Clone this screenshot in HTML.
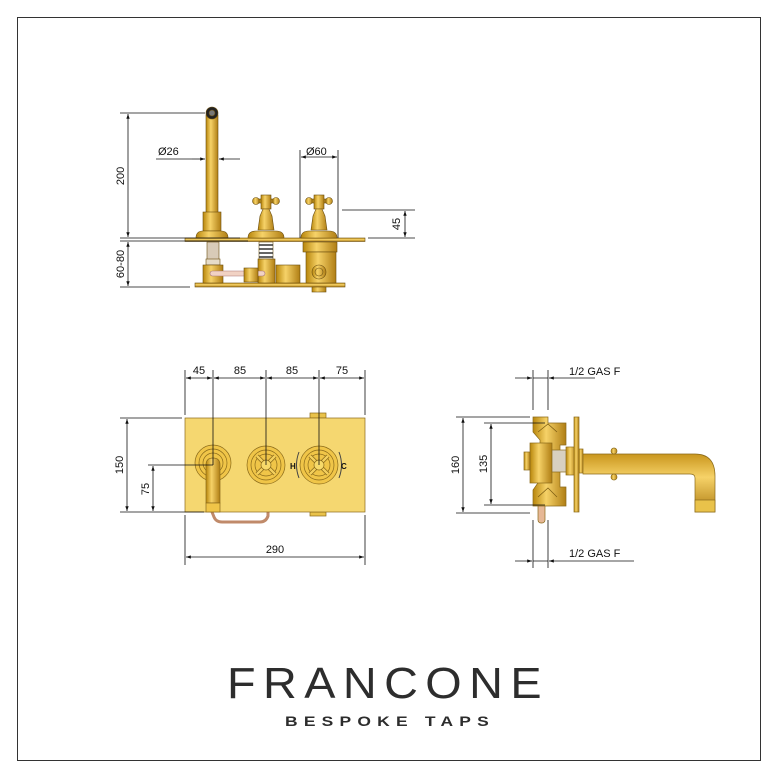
<!DOCTYPE html>
<html><head><meta charset="utf-8"><style>
html,body{margin:0;padding:0;background:#fff}
svg{display:block}
text{font-family:"Liberation Sans",sans-serif;fill:#111}
</style></head><body>
<svg width="778" height="778" viewBox="0 0 778 778" xmlns="http://www.w3.org/2000/svg">
<defs>
<linearGradient id="gv" x1="0" x2="1" y1="0" y2="0"><stop offset="0" stop-color="#b8860b"/><stop offset=".4" stop-color="#f6d268"/><stop offset="1" stop-color="#b07e14"/></linearGradient>
<linearGradient id="gh" x1="0" x2="0" y1="0" y2="1"><stop offset="0" stop-color="#c9961d"/><stop offset=".4" stop-color="#f6d268"/><stop offset="1" stop-color="#b07e14"/></linearGradient>
<marker id="a" viewBox="0 0 10 10" refX="10" refY="5" markerWidth="8" markerHeight="6" orient="auto-start-reverse"><path d="M0,1.5L10,5L0,8.5z" fill="#111"/></marker>
</defs>
<rect x="17.5" y="17.5" width="743" height="743" fill="#fff" stroke="#333" stroke-width="1"/>

<!-- ===== TOP ELEVATION ===== -->
<g stroke="#6b4e10" stroke-width=".6">
<!-- plates -->
<rect x="185" y="238" width="180" height="3.5" fill="url(#gh)"/>
<rect x="195" y="283" width="150" height="4" fill="url(#gh)"/>
<!-- spout -->
<rect x="206" y="115" width="12" height="98" fill="url(#gv)"/>
<rect x="203" y="212" width="18" height="19" fill="url(#gv)"/>
<path d="M196,238 Q196,231 203,231 L221,231 Q228,231 228,238Z" fill="url(#gv)"/>
<circle cx="212" cy="113" r="6" fill="#222"/>
<circle cx="212" cy="113" r="3" fill="#777"/>
<!-- handles -->
<g id="h1">
<circle cx="256" cy="201" r="3.5" fill="url(#gv)"/><circle cx="276" cy="201" r="3.5" fill="url(#gv)"/>
<rect x="259" y="199" width="14" height="4" fill="url(#gv)"/>
<rect x="261" y="195" width="10" height="14" fill="url(#gv)"/>
<path d="M263,209 L269,209 L272,216 L274,230 L258,230 L260,216Z" fill="url(#gv)"/>
<path d="M248,238 Q248,231 256,231 L276,231 Q284,231 284,238Z" fill="url(#gv)"/>
</g>
<use href="#h1" x="53"/>
<!-- below plate -->
<rect x="207" y="242" width="12" height="18" fill="#d8cbb8"/>
<rect x="206" y="259" width="14" height="6" fill="#e6dcc8"/>
<rect x="203" y="265" width="20" height="18" fill="url(#gv)"/>
<rect x="259" y="242" width="14" height="17" fill="#fff"/>
<path d="M259,245h14M259,249h14M259,253h14M259,257h14" stroke="#333" stroke-width="1.6"/>
<rect x="258" y="259" width="17" height="24" fill="url(#gv)"/>
<rect x="210" y="271" width="55" height="5" rx="2.5" fill="#f1d2c4" stroke="#a77"/>
<rect x="244" y="268" width="14" height="14" fill="url(#gv)"/>
<rect x="276" y="265" width="24" height="18" fill="url(#gv)"/>
<rect x="303" y="242" width="34" height="10" fill="url(#gv)"/>
<rect x="306" y="252" width="30" height="31" fill="url(#gv)"/>
<circle cx="319" cy="272" r="7" fill="url(#gv)"/>
<circle cx="319" cy="272" r="4" fill="none"/>
<rect x="312" y="287" width="14" height="5" fill="url(#gv)"/>
</g>
<g stroke="#111" stroke-width=".8" fill="none">
<path d="M120,113H205M120,238H240M120,241H248M120,287H190"/>
<line x1="128" y1="114" x2="128" y2="237" marker-start="url(#a)" marker-end="url(#a)"/>
<line x1="128" y1="242" x2="128" y2="286" marker-start="url(#a)" marker-end="url(#a)"/>
<path d="M156,159H192" /><line x1="192" y1="159" x2="205" y2="159" marker-end="url(#a)"/><line x1="240" y1="159" x2="219" y2="159" marker-end="url(#a)"/>
<path d="M300,150V238M338,150V238"/>
<line x1="301" y1="157" x2="337" y2="157" marker-start="url(#a)" marker-end="url(#a)"/>
<path d="M342,210H415M368,238H415"/>
<line x1="405" y1="211" x2="405" y2="237" marker-start="url(#a)" marker-end="url(#a)"/>
</g>
<text x="158" y="155" font-size="11">Ø26</text>
<text x="306" y="155" font-size="11">Ø60</text>
<text transform="translate(124,176) rotate(-90)" text-anchor="middle" font-size="11">200</text>
<text transform="translate(124,264) rotate(-90)" text-anchor="middle" font-size="11">60-80</text>
<text transform="translate(400,224) rotate(-90)" text-anchor="middle" font-size="11">45</text>

<!-- ===== FRONT VIEW ===== -->
<g stroke="#8a6a1a" stroke-width=".7">
<rect x="310" y="413" width="16" height="5" fill="#e9c24a"/>
<rect x="310" y="512" width="16" height="4" fill="#e9c24a"/>
<path d="M212,512 L214,517 Q216,522 222,522 L260,522 Q266,522 268,516 L268,512" fill="none" stroke="#c08a6a" stroke-width="3"/>
<rect x="185" y="418" width="180" height="94" fill="#f5d770"/>
<circle cx="213" cy="463" r="18" fill="#f0c548"/><circle cx="213" cy="463" r="14" fill="none"/><circle cx="213" cy="463" r="10" fill="none"/>
<path d="M206,465 Q206,458 213,458 Q220,458 220,465 L220,503 L206,503Z" fill="url(#gv)"/>
<rect x="206" y="503" width="14" height="9" fill="#f0c548"/>
<g id="k1"><circle cx="266" cy="465" r="19" fill="#f0c548"/><circle cx="266" cy="465" r="15" fill="none"/><circle cx="266" cy="465" r="11" fill="none"/>
<path d="M257,456L275,474M275,456L257,474" stroke="#8a6a1a" stroke-width="4"/>
<path d="M257,456L275,474M275,456L257,474" stroke="#f3cf5c" stroke-width="2.4"/>
<circle cx="266" cy="465" r="5" fill="#f7da6a"/></g>
<use href="#k1" x="53"/>
</g>
<path d="M299,452 Q294,465 299,478M339,452 Q344,465 339,478" fill="none" stroke="#444" stroke-width="1"/>
<text x="290" y="469" font-size="8" font-weight="bold">H</text>
<text x="341" y="469" font-size="8" font-weight="bold">C</text>
<g stroke="#111" stroke-width=".8" fill="none">
<path d="M185,370V415M213,370V465M266,370V465M319,370V465M365,370V415"/>
<line x1="186" y1="378" x2="212" y2="378" marker-start="url(#a)" marker-end="url(#a)"/>
<line x1="214" y1="378" x2="265" y2="378" marker-start="url(#a)" marker-end="url(#a)"/>
<line x1="267" y1="378" x2="318" y2="378" marker-start="url(#a)" marker-end="url(#a)"/>
<line x1="320" y1="378" x2="364" y2="378" marker-start="url(#a)" marker-end="url(#a)"/>
<path d="M120,418H182M120,512H204M148,465H213"/>
<line x1="127" y1="419" x2="127" y2="511" marker-start="url(#a)" marker-end="url(#a)"/>
<line x1="153" y1="466" x2="153" y2="511" marker-start="url(#a)" marker-end="url(#a)"/>
<path d="M185,515V565M365,515V565"/>
<line x1="186" y1="557" x2="364" y2="557" marker-start="url(#a)" marker-end="url(#a)"/>
</g>
<text x="199" y="374" font-size="11" text-anchor="middle">45</text>
<text x="240" y="374" font-size="11" text-anchor="middle">85</text>
<text x="292" y="374" font-size="11" text-anchor="middle">85</text>
<text x="342" y="374" font-size="11" text-anchor="middle">75</text>
<text x="275" y="553" font-size="11" text-anchor="middle">290</text>
<text transform="translate(123,465) rotate(-90)" text-anchor="middle" font-size="11">150</text>
<text transform="translate(149,489) rotate(-90)" text-anchor="middle" font-size="11">75</text>

<!-- ===== SIDE VIEW ===== -->
<g stroke="#8a6a1a" stroke-width=".7">
<rect x="538" y="490" width="7" height="33" rx="3" fill="#e6b896"/>
<path d="M533,417 L548,417 L548,423 L566,423 L566,445 L560,445 L560,487 L566,487 L566,506 L548,506 L533,506 L533,490 L540,480 L540,440 L533,432Z" fill="url(#gv)"/>
<path d="M538,432 L548,424 L557,432 M538,497 L548,488 L557,497" fill="none" stroke="#7a5a10"/>
<rect x="530" y="443" width="22" height="40" fill="url(#gv)"/>
<rect x="524" y="452" width="6" height="18" fill="url(#gv)"/>
<rect x="552" y="450" width="22" height="22" fill="#d8d0c0"/>
<rect x="566" y="447" width="10" height="28" fill="url(#gv)"/>
<rect x="574" y="417" width="5" height="95" fill="url(#gv)"/>
<rect x="579" y="449" width="4" height="24" fill="url(#gv)"/>
<path d="M583,454 L695,454 Q715,454 715,476 L715,512 L695,512 L695,478 Q695,474 690,474 L583,474Z" fill="url(#gh)"/>
<rect x="695" y="500" width="20" height="12" fill="#e9c24a"/>
<circle cx="614" cy="451" r="3" fill="url(#gv)"/><circle cx="614" cy="477" r="3" fill="url(#gv)"/>
</g>
<g stroke="#111" stroke-width=".8" fill="none">
<path d="M533,370V410M548,370V410M533,520V568M548,520V568"/>
<line x1="515" y1="378" x2="532" y2="378" marker-end="url(#a)"/><line x1="595" y1="378" x2="549" y2="378" marker-end="url(#a)"/>
<line x1="515" y1="561" x2="532" y2="561" marker-end="url(#a)"/><line x1="634" y1="561" x2="549" y2="561" marker-end="url(#a)"/>
<path d="M533,378H548M533,561H548"/>
<path d="M456,417H530M484,423H545M456,513H530M484,505H545"/>
<line x1="463" y1="418" x2="463" y2="512" marker-start="url(#a)" marker-end="url(#a)"/>
<line x1="491" y1="424" x2="491" y2="504" marker-start="url(#a)" marker-end="url(#a)"/>
</g>
<text x="569" y="375" font-size="11">1/2 GAS F</text>
<text x="569" y="557" font-size="11">1/2 GAS F</text>
<text transform="translate(459,465) rotate(-90)" text-anchor="middle" font-size="11">160</text>
<text transform="translate(487,464) rotate(-90)" text-anchor="middle" font-size="11">135</text>

<!-- ===== LOGO ===== -->
<text x="388" y="698" text-anchor="middle" font-size="44" letter-spacing="7" style="fill:#2d2d2d;font-weight:normal" textLength="322" lengthAdjust="spacingAndGlyphs">FRANCONE</text>
<text x="390" y="726" text-anchor="middle" font-size="14" font-weight="bold" letter-spacing="5" style="fill:#2d2d2d" textLength="210" lengthAdjust="spacingAndGlyphs">BESPOKE TAPS</text>
</svg>
</body></html>
